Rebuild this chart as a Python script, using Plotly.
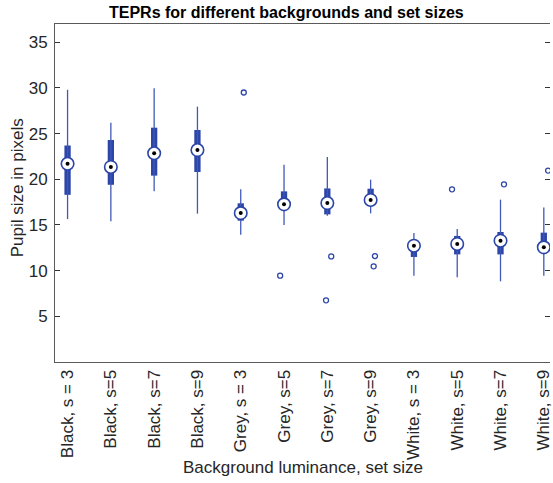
import plotly.graph_objects as go

categories = ["Black, s = 3", "Black, s=5", "Black, s=7", "Black, s=9",
              "Grey, s = 3", "Grey, s=5", "Grey, s=7", "Grey, s=9",
              "White, s = 3", "White, s=5", "White, s=7", "White, s=9"]
whisker_low = [15.65, 15.4, 18.7, 16.24, 13.94, 15.0, 16.0, 16.27, 9.45, 9.27, 8.83, 9.45]
q1 = [18.3, 19.4, 20.4, 20.8, 15.47, 16.64, 16.16, 17.1, 11.5, 11.78, 11.78, 11.9]
median = [21.7, 21.35, 22.85, 23.2, 16.3, 17.26, 17.4, 17.74, 12.73, 12.92, 13.28, 12.55]
q3 = [23.7, 24.3, 25.65, 25.4, 17.37, 18.68, 19.0, 18.97, 13.2, 13.8, 14.23, 14.16]
whisker_high = [29.8, 26.2, 29.96, 27.95, 18.9, 21.6, 22.45, 19.96, 14.12, 14.56, 17.77, 16.9]

# outliers: group index (1-based), jittered position, value
outlier_group = [5, 6, 7, 7, 8, 8, 10, 11, 12]
outlier_pos = [5.07, 5.91, 7.09, 6.97, 8.1, 8.07, 9.88, 11.08, 12.1]
outlier_val = [29.5, 9.45, 11.56, 6.75, 11.6, 10.47, 18.9, 19.45, 20.95]

y_ticks = [5, 10, 15, 20, 25, 30, 35]

positions = list(range(1, len(categories) + 1))
BLUE = "#2B45A8"
WHISK = "#4059B8"
FONT = "Liberation Sans, Arial, sans-serif"
TXT = "#262626"

fig = go.Figure()

wx, wy = [], []
for p, lo, hi in zip(positions, whisker_low, whisker_high):
    wx += [p, p, None]
    wy += [lo, hi, None]
fig.add_trace(go.Scatter(x=wx, y=wy, mode="lines",
                         line=dict(color=WHISK, width=1.3), hoverinfo="skip"))

fig.add_trace(go.Bar(x=positions, y=[b - a for a, b in zip(q1, q3)], base=q1,
                     width=0.145, marker=dict(color=BLUE, line=dict(width=0))))

fig.add_trace(go.Scatter(x=positions, y=median, mode="markers",
                         marker=dict(symbol="circle", size=12.5, color="white",
                                     line=dict(color=BLUE, width=1.6))))
fig.add_trace(go.Scatter(x=positions, y=median, mode="markers",
                         marker=dict(symbol="circle", size=4, color="black")))

fig.add_trace(go.Scatter(x=outlier_pos, y=outlier_val, mode="markers",
                         marker=dict(symbol="circle-open", size=5, color=BLUE,
                                     line=dict(width=1.3))))

# empty trace so the right-hand tick axis is drawn
fig.add_trace(go.Scatter(x=[], y=[], yaxis="y2", showlegend=False))

fig.update_layout(
    width=553, height=483,
    margin=dict(l=55, r=0, t=24, b=121),
    plot_bgcolor="white", paper_bgcolor="white",
    showlegend=False, barmode="overlay",
    font=dict(family=FONT, size=17, color=TXT),
    xaxis=dict(range=[0.71, 12.143], tickmode="array", tickvals=positions,
               ticktext=categories, tickangle=-90, ticks="", showgrid=False,
               zeroline=False, showline=True, linecolor="#5a5a5a", linewidth=1,
               mirror=True, tickfont=dict(size=17, color=TXT),
               ticklabeloverflow="allow"),
    yaxis=dict(range=[0, 37], tickmode="array", tickvals=y_ticks,
               ticks="inside", ticklen=5, tickcolor="#333333", showgrid=False,
               zeroline=False, showline=True, linecolor="#5a5a5a", linewidth=1,
               mirror=False, tickfont=dict(size=17, color=TXT),
               ticklabelstandoff=3),
    yaxis2=dict(range=[0, 37], overlaying="y", side="right", tickmode="array",
                tickvals=y_ticks, ticks="inside", ticklen=5, tickcolor="#333333",
                showticklabels=False, showgrid=False, zeroline=False, showline=False),
)

pw, ph = 553 - 55 - 0, 483 - 24 - 121
def px(x):
    return (x - 55) / pw
def py(y):
    return (483 - 121 - y) / ph

fig.add_annotation(text="<b>TEPRs for different backgrounds and set sizes</b>",
                   x=px(288), y=py(12), xref="paper", yref="paper", showarrow=False,
                   xanchor="center", yanchor="middle",
                   font=dict(size=16, color="black", family=FONT))
fig.add_annotation(text="Background luminance, set size",
                   x=px(305), y=py(467), xref="paper", yref="paper", showarrow=False,
                   xanchor="center", yanchor="middle",
                   font=dict(size=17, color=TXT, family=FONT))
fig.add_annotation(text="Pupil size in pixels", textangle=-90,
                   x=px(17), y=py(188), xref="paper", yref="paper", showarrow=False,
                   xanchor="center", yanchor="middle",
                   font=dict(size=17, color=TXT, family=FONT))

fig.write_html("out.html")
